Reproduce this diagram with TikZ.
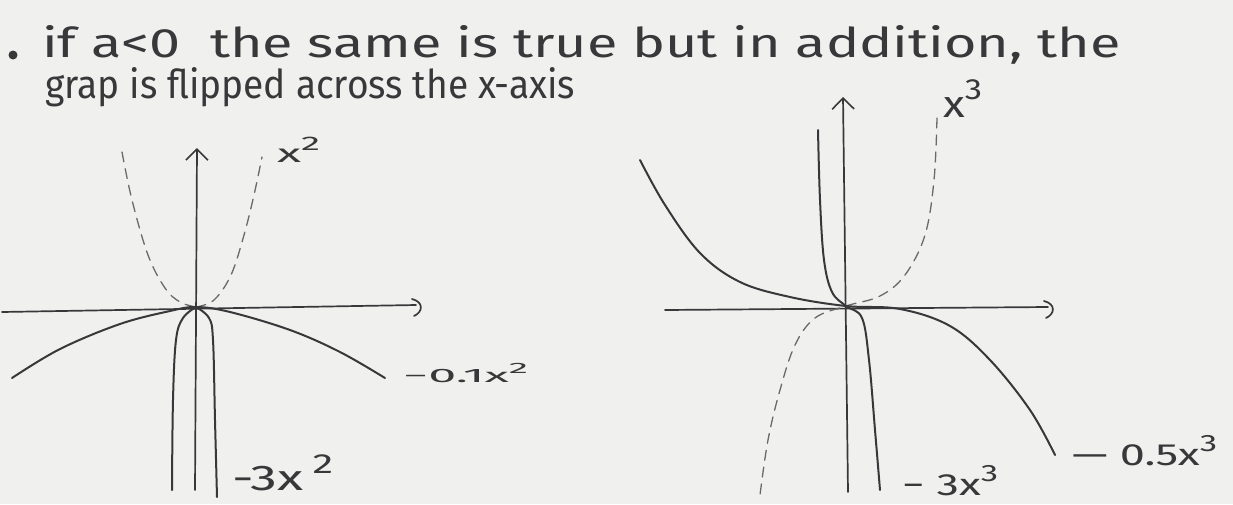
\documentclass[tikz,border=0pt]{standalone}
\usepackage{fontspec}
\setmainfont{Fira Sans}
\usetikzlibrary{arrows.meta}
\definecolor{paper}{HTML}{F0F0EF}
\definecolor{ink}{HTML}{38383A}
\definecolor{dashink}{HTML}{6A6A6C}
\newcommand\sps[1]{\raisebox{10pt}{\fontsize{17}{20}\selectfont #1}}
\newcommand\lab[3]{\resizebox{#1}{#2}{\fontsize{22}{26}\selectfont #3}}
\tikzset{
  curve/.style={ink, line width=2pt, line cap=round, line join=round},
  dcurve/.style={dashink, line width=1.3pt, dash pattern=on 10pt off 7pt, line cap=round},
  axis/.style={ink, line width=1.7pt, line cap=round},
  yaxis/.style={axis, -{Straight Barb[length=11pt, width=22pt, line width=1.6pt]}},
  lbl/.style={ink, anchor=base west, inner sep=0pt},
  hw/.style={ink, anchor=base west, inner sep=0pt},
}
\begin{document}
\begin{tikzpicture}[x=1pt, y=-1pt]
\fill[paper] (0,0) rectangle (1233,504);
\useasboundingbox (0,0) rectangle (1233,504);

% heading text
\fill[ink] (13,55) circle (4.5pt);
\node[hw] (line1) at (42,57) {\resizebox{1078pt}{32pt}{if a<0 \ the same is true but in addition, the}};
\node[hw] (line2) at (45,98) {\resizebox{530pt}{31pt}{grap is flipped across the x-axis}};

% ---------- left graph ----------
\coordinate (O1) at (196,307);
\coordinate (xa1s) at (2,312);
\coordinate (xa1e) at (416,305);
\coordinate (ya1s) at (195,490);
\coordinate (ya1e) at (197,148);
\draw[axis] (xa1s) -- (xa1e);
\draw[axis] (412,299) .. controls (424,302) and (423,312) .. (414,316);
\draw[yaxis] (ya1s) -- (ya1e);

% dashed x^2
\draw[dcurve] plot[smooth, tension=0.6] coordinates {(122,152)(132,200)(148,255)(165,288)(180,302)(196,307)};
\draw[dcurve] plot[smooth, tension=0.6] coordinates {(196,307)(214,300)(231,275)(244,235)(254,195)(262,157)};
% -0.1 x^2
\draw[curve] plot[smooth, tension=0.6] coordinates {(12,378)(60,349)(120,324)(170,311)(196,307)(230,312)(290,330)(340,352)(385,378)};
% -3 x^2
\draw[curve] plot[smooth, tension=0.6] coordinates {(172,490)(173,400)(176,340)(183,318)(196,307)};
\draw[curve] plot[smooth, tension=0.6] coordinates {(196,307)(209,318)(213,340)(215,420)(217,497)};

\node[lbl] (l1a) at (277,162) {\lab{43pt}{25pt}{x\sps{2}}};
\node[lbl] (l1b) at (403,382) {\lab{125pt}{19pt}{−0.1x\sps{2}}};
\node[lbl] (l1c) at (232,490) {\lab{101pt}{35pt}{-3x\,\sps{2}}};

% ---------- right graph ----------
\coordinate (O2) at (846,306);
\coordinate (xa2s) at (665,310);
\coordinate (xa2e) at (1048,307);
\coordinate (ya2s) at (848,492);
\coordinate (ya2e) at (843,97);
\draw[axis] (xa2s) -- (xa2e);
\draw[axis] (1044,301) .. controls (1056,304) and (1055,314) .. (1046,318);
\draw[yaxis] (ya2s) -- (ya2e);

% dashed x^3
\draw[dcurve] plot[smooth, tension=0.6] coordinates {(937,118)(934,180)(925,235)(905,275)(880,296)(846,306)(815,318)(795,345)(780,390)(768,440)(760,495)};
% -3 x^3
\draw[curve] plot[smooth, tension=0.6] coordinates {(818,130)(820,200)(824,260)(832,292)(846,306)(862,318)(869,360)(875,430)(880,490)};
% -0.5 x^3
\draw[curve] plot[smooth, tension=0.6] coordinates {(640,160)(665,205)(700,253)(740,282)(790,297)(846,306)(900,309)(950,326)(990,360)(1030,410)(1055,455)};

\node[lbl] (l2a) at (943,117) {\lab{39pt}{37pt}{x\sps{3}}};
\node[lbl] (l2b) at (902,495) {\lab{96pt}{30pt}{− 3x\sps{3}}};
\node[lbl] (l2c) at (1072,465) {\lab{145pt}{30pt}{— 0.5x\sps{3}}};
\end{tikzpicture}
\end{document}
